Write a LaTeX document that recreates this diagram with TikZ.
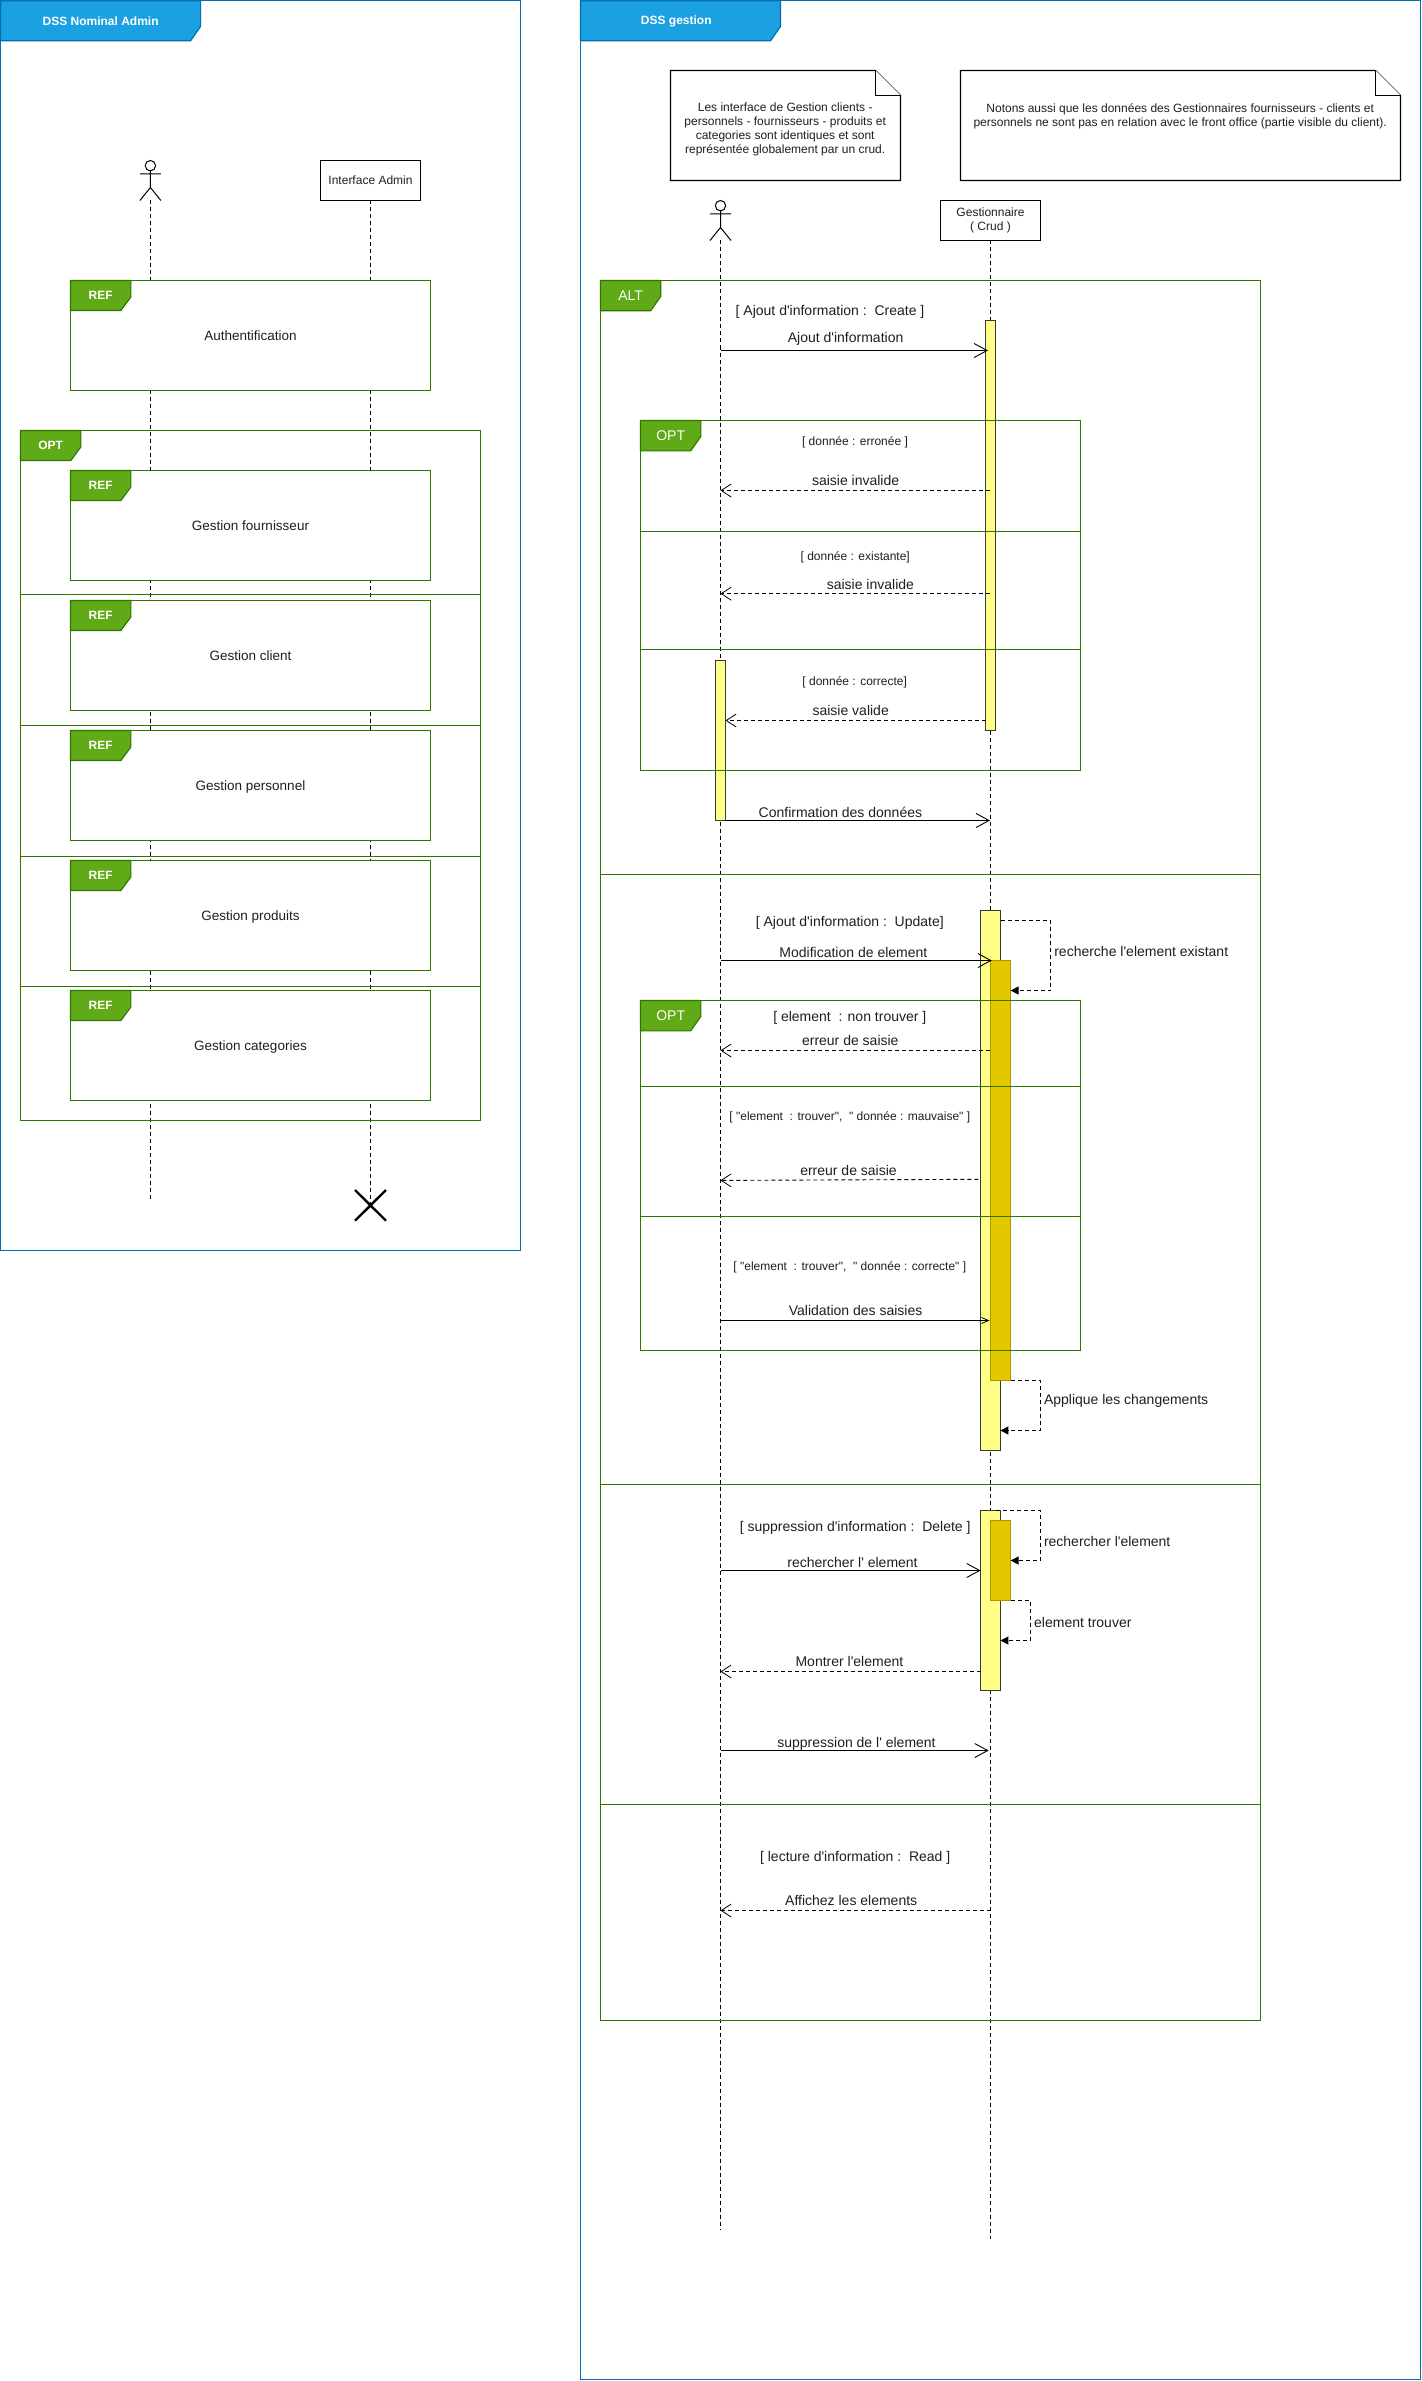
\documentclass[tikz,border=0pt]{standalone}
\usepackage{fontspec}
\usetikzlibrary{arrows.meta}
\newfontfamily\lib{Liberation Sans}
\definecolor{framestroke}{HTML}{006EAF}
\definecolor{framefill}{HTML}{1BA1E2}
\definecolor{fragstroke}{HTML}{2D7600}
\definecolor{fragfill}{HTML}{60A917}
\definecolor{actfill}{HTML}{FFFF88}
\definecolor{actstroke}{HTML}{36393D}
\definecolor{darkfill}{HTML}{E3C800}
\definecolor{darkstroke}{HTML}{B09500}
\tikzset{
  x=1pt,y=-1pt,
  every node/.style={inner sep=0pt,outer sep=0pt},
  lbl/.style={font=\lib\fontsize{14}{16}\selectfont,text height=10pt,text depth=0pt,text=black!88},
  lbls/.style={font=\lib\fontsize{12}{14}\selectfont,text height=8.6pt,text depth=0pt,text=black!88},
  lblr/.style={lbl,anchor=west},
  notetext/.style={font=\lib\fontsize{12}{14}\selectfont,align=center,text=black!88},
  objbox/.style={draw=black,fill=white,line width=1.1pt,font=\lib\fontsize{12}{14}\selectfont,align=center,text=black!88},
  refbox/.style={draw=fragstroke,fill=white,line width=1.1pt,minimum width=360pt,minimum height=110pt,font=\lib\fontsize{13.5}{16}\selectfont,text height=10pt,text depth=0pt,text=black!88},
  fragline/.style={draw=fragstroke,line width=1.1pt},
  frameline/.style={draw=framestroke,line width=1.3pt},
  fragtabstyle/.style={draw=fragstroke,fill=fragfill,line width=1.1pt,line join=miter},
  frametabstyle/.style={draw=framestroke,fill=framefill,line width=1.2pt},
  tabtxt/.style={font=\lib\bfseries\fontsize{12}{14}\selectfont,text=white,text height=8.6pt,text depth=0pt},
  tabtxtb/.style={font=\lib\fontsize{14}{16}\selectfont,text=white,text height=10pt,text depth=0pt},
  lifeline/.style={draw=black,line width=.9pt,dash pattern=on 4pt off 3pt},
  actorline/.style={draw=black,line width=1pt},
  actbar/.style={draw=actstroke,fill=actfill,line width=1.1pt,minimum width=#1},
  actbar/.default=10pt,
  darkbar/.style={draw=darkstroke,fill=darkfill,line width=1.1pt,minimum width=20pt},
  syncmsg/.style={draw=black,line width=1.1pt,-{Straight Barb[length=13pt,width=14pt,line width=.9pt]}},
  syncsmall/.style={draw=black,line width=1pt,-{Straight Barb[length=7pt,width=6pt,line width=.8pt]}},
  retmsg/.style={draw=black,line width=.9pt,dash pattern=on 4pt off 3pt,-{Straight Barb[length=10pt,width=13pt,line width=.8pt]}},
  selfmsg/.style={draw=black,line width=.9pt,dash pattern=on 4pt off 3pt,-{Triangle[length=8pt,width=8pt]}},
  notebox/.style={draw=black,fill=white,line width=1.1pt,line join=miter},
}
% #1 name, #2 x, #3 y, #4 w, #5 h, #6 cut-y, #7 shape style, #8 text style, #9 text
\newcommand{\umltab}[9]{%
  \path[#7] (#2,#3) -- ({#2+#4},#3) -- ({#2+#4},{#3+#6}) -- ({#2+#4-10},{#3+#5}) -- (#2,{#3+#5}) -- cycle;
  \node[#8] (#1) at ({#2+#4/2},{#3+#5/2}) {#9};%
}
\newcommand{\sepline}[4]{\coordinate (#1a) at (#2,#4); \coordinate (#1b) at (#3,#4); \draw[fragline] (#1a) -- (#1b);}
% #1 name, #2 x, #3 ytop (head centre = ytop+5.2)
\newcommand{\stickman}[3]{%
  \node[draw=black,line width=1pt,circle,minimum size=10.4pt] (#1) at (#2,{#3+5.2}) {};
  \coordinate (#1arml) at ({#2-10.5},{#3+13.5}); \coordinate (#1armr) at ({#2+10.5},{#3+13.5});
  \coordinate (#1hip) at (#2,{#3+27}); \coordinate (#1legl) at ({#2-10.5},{#3+40}); \coordinate (#1legr) at ({#2+10.5},{#3+40});
  \draw[actorline] (#1.south) -- (#1hip) (#1arml) -- (#1armr) (#1legl) -- (#1hip) -- (#1legr);%
}
% #1 name,#2 x0,#3 y0,#4 x1,#5 y1,#6 style,#7 label x,#8 label y,#9 label
\newcommand{\umlmsg}[9]{%
  \coordinate (#1s) at (#2,#3); \coordinate (#1e) at (#4,#5);
  \draw[#6] (#1s) -- (#1e);
  \node[lbl] (#1t) at (#7,#8) {#9};%
}
\begin{document}
\begin{tikzpicture}
\useasboundingbox (0,0) rectangle (1421,2381);
\fill[white] (0,0) rectangle (1421,2381);

%================ LEFT FRAME ================
\node[frameline,anchor=north west,minimum width=520pt,minimum height=1249.5pt] (leftframe) at (0.6,0.8) {};
\umltab{lefttitle}{0.6}{0.8}{200}{40}{25.5}{frametabstyle}{tabtxt}{DSS Nominal Admin}

\stickman{actorA}{150.4}{160.5}
\node[objbox,minimum width=100pt,minimum height=40pt] (iface) at (370.5,180.5) {Interface Admin};
\coordinate (endA) at (150.4,1199.3);
\coordinate (endB) at (370.5,1205.3);
\draw[lifeline] (actorAhip |- actorAlegl) -- (endA);
\draw[lifeline] (iface.south) -- (endB);
\draw[black,line width=2.4pt] (355,1190) -- (386,1220.7) (355,1220.7) -- (386,1190);

\node[fragline,anchor=north west,minimum width=460pt,minimum height=690pt] (optA) at (20.5,430.5) {};
\umltab{optAtab}{20.5}{430.5}{60.4}{30}{16.5}{fragtabstyle}{tabtxt}{OPT}
\sepline{sA1}{20.5}{480.5}{594.5}
\sepline{sA2}{20.5}{480.5}{725.5}
\sepline{sA3}{20.5}{480.5}{856.5}
\sepline{sA4}{20.5}{480.5}{986.5}

\node[refbox] (rauth) at (250.5,335.5) {Authentification};
\umltab{rauthtab}{70.5}{280.5}{60.4}{30}{16.5}{fragtabstyle}{tabtxt}{REF}
\node[refbox] (rfourn) at (250.5,525.5) {Gestion fournisseur};
\umltab{rfourntab}{70.5}{470.5}{60.4}{30}{16.5}{fragtabstyle}{tabtxt}{REF}
\node[refbox] (rclient) at (250.5,655.5) {Gestion client};
\umltab{rclienttab}{70.5}{600.5}{60.4}{30}{16.5}{fragtabstyle}{tabtxt}{REF}
\node[refbox] (rpers) at (250.5,785.5) {Gestion personnel};
\umltab{rperstab}{70.5}{730.5}{60.4}{30}{16.5}{fragtabstyle}{tabtxt}{REF}
\node[refbox] (rprod) at (250.5,915.5) {Gestion produits};
\umltab{rprodtab}{70.5}{860.5}{60.4}{30}{16.5}{fragtabstyle}{tabtxt}{REF}
\node[refbox] (rcat) at (250.5,1045.5) {Gestion categories};
\umltab{rcattab}{70.5}{990.5}{60.4}{30}{16.5}{fragtabstyle}{tabtxt}{REF}

%================ RIGHT FRAME ================
\node[frameline,anchor=north west,minimum width=840pt,minimum height=2379pt] (rightframe) at (580.4,0.8) {};
\path[frametabstyle] (580.4,0.8) -- (780.5,0.8) -- (780.5,26.5) -- (770.6,40.7) -- (580.4,40.7) -- cycle;
\node[tabtxt] (righttitle) at (676.3,20.7) {DSS gestion};

% notes
\path[notebox] (670.5,70.5) -- (875.5,70.5) -- (900.5,95.5) -- (900.5,180.5) -- (670.5,180.5) -- cycle;
\path[notebox] (875.5,70.5) -- (875.5,95.5) -- (900.5,95.5);
\node[notetext] (noteA) at (785.2,129.9) {Les interface de Gestion clients -\\personnels - fournisseurs - produits et\\categories sont identiques et sont\\représentée globalement par un crud.};
\path[notebox] (960.5,70.5) -- (1375.5,70.5) -- (1400.5,95.5) -- (1400.5,180.5) -- (960.5,180.5) -- cycle;
\path[notebox] (1375.5,70.5) -- (1375.5,95.5) -- (1400.5,95.5);
\node[notetext] (noteB) at (1180.2,115.9) {Notons aussi que les données des Gestionnaires fournisseurs - clients et\\personnels ne sont pas en relation avec le front office (partie visible du client).};

% lifelines
\stickman{actorC}{720.5}{200.5}
\node[objbox,minimum width=100pt,minimum height=40pt] (gest) at (990.5,220.5) {Gestionnaire\\( Crud )};
\coordinate (endC) at (720.5,2229);
\coordinate (endD) at (990.5,2239);
\draw[lifeline] (actorChip |- actorClegl) -- (endC);
\draw[lifeline] (gest.south) -- (endD);

% activations
\node[actbar,anchor=north,minimum height=410pt] (barA) at (990.5,320.5) {};
\node[actbar,anchor=north,minimum height=160pt] (barB) at (720.5,660.5) {};
\node[actbar=20pt,anchor=north,minimum height=540pt] (barC) at (990.5,910.5) {};
\node[darkbar,anchor=north,minimum height=420pt] (darkA) at (1000.5,960.5) {};
\node[actbar=20pt,anchor=north,minimum height=180pt] (barD) at (990.5,1510.5) {};
\node[darkbar,anchor=north,minimum height=80pt] (darkB) at (1000.5,1520.5) {};

% ALT fragment
\node[fragline,anchor=north west,minimum width=660pt,minimum height=1740pt] (alt) at (600.5,280.5) {};
\umltab{alttab}{600.5}{280.5}{60.2}{30.3}{16}{fragtabstyle}{tabtxtb}{ALT}
\sepline{sC1}{600.5}{1260.5}{874.5}
\sepline{sC2}{600.5}{1260.5}{1484.5}
\sepline{sC3}{600.5}{1260.5}{1804.5}

% OPT first
\node[fragline,anchor=north west,minimum width=440pt,minimum height=350pt] (optB) at (640.5,420.5) {};
\umltab{optBtab}{640.5}{420.5}{60.3}{30.3}{16}{fragtabstyle}{tabtxtb}{OPT}
\sepline{sB1}{640.5}{1080.5}{531.5}
\sepline{sB2}{640.5}{1080.5}{649.5}

% OPT second
\node[fragline,anchor=north west,minimum width=440pt,minimum height=350pt] (optC) at (640.5,1000.5) {};
\umltab{optCtab}{640.5}{1000.5}{60.3}{30.3}{16}{fragtabstyle}{tabtxtb}{OPT}
\sepline{sD1}{640.5}{1080.5}{1086.5}
\sepline{sD2}{640.5}{1080.5}{1216.5}

% Create
\node[lbl] (gCreate) at (830,311) {[ Ajout d'information :~~Create ]};
\umlmsg{mA}{720.5}{350.5}{988}{350.5}{syncmsg}{845.6}{337.3}{Ajout d'information}
\node[lbls] (gErr) at (855,440.7) {[ donnée : erronée ]};
\umlmsg{mB}{990.4}{490.5}{720.5}{490.5}{retmsg}{855.6}{480}{saisie invalide}
\node[lbls] (gExist) at (855.2,555.7) {[ donnée : existante]};
\umlmsg{mC}{990.4}{593.7}{720.5}{593.7}{retmsg}{870.4}{584}{saisie invalide}
\node[lbls] (gCorr) at (854.7,680.7) {[ donnée : correcte]};
\umlmsg{mD}{985.5}{720.5}{725.5}{720.5}{retmsg}{850.7}{710.3}{saisie valide}
\umlmsg{mE}{725.5}{820.5}{990}{820.5}{syncmsg}{840.4}{812.3}{Confirmation des données}

% Update
\node[lbl] (gUpdate) at (849.8,921) {[ Ajout d'information :~~Update]};
\umlmsg{mF}{720.5}{960.5}{991.8}{960.5}{syncmsg}{853.4}{952}{Modification de element}
\coordinate (loopAs) at (1000.5,920.5);
\coordinate (loopAe) at (1010.6,990.5);
\draw[selfmsg] (loopAs) -- (1050.5,920.5) -- (1050.5,990.5) -- (loopAe);
\node[lblr] (tLoopA) at (1054.3,951.2) {recherche l'element existant};
\node[lbl] (gNon) at (849.8,1016.2) {[ element~~: non trouver ]};
\umlmsg{mG}{990.4}{1050.5}{720.5}{1050.5}{retmsg}{850.3}{1040}{erreur de saisie}
\node[lbls] (gMauv) at (849.8,1116.5) {[ "element~~: trouver",~~" donnée : mauvaise" ]};
\umlmsg{mH}{978.4}{1179.3}{720.5}{1180.4}{retmsg}{848.5}{1170}{erreur de saisie}
\node[lbls] (gCorrB) at (849.8,1266.5) {[ "element~~: trouver",~~" donnée : correcte" ]};
\umlmsg{mI}{720.5}{1320.5}{989.6}{1320.5}{syncsmall}{855.6}{1310}{Validation des saisies}
\coordinate (loopBs) at (1010.6,1380.5);
\coordinate (loopBe) at (1000.4,1430.5);
\draw[selfmsg] (loopBs) -- (1040.5,1380.5) -- (1040.5,1430.5) -- (loopBe);
\node[lblr] (tLoopB) at (1044,1399) {Applique les changements};

% Delete
\node[lbl] (gDelete) at (855.2,1526.2) {[ suppression d'information :~~Delete ]};
\coordinate (loopCs) at (996,1510.5);
\coordinate (loopCe) at (1010.6,1560.5);
\draw[selfmsg] (loopCs) -- (1040.5,1510.5) -- (1040.5,1560.5) -- (loopCe);
\node[lblr] (tLoopC) at (1044,1541) {rechercher l'element};
\umlmsg{mJ}{720.5}{1570.5}{980.6}{1570.5}{syncmsg}{852.5}{1562}{rechercher l' element}
\coordinate (loopDs) at (1010.6,1600.5);
\coordinate (loopDe) at (1000.4,1640.5);
\draw[selfmsg] (loopDs) -- (1030.5,1600.5) -- (1030.5,1640.5) -- (loopDe);
\node[lblr] (tLoopD) at (1034.2,1622) {element trouver};
\umlmsg{mK}{980.6}{1671.5}{720.5}{1671.5}{retmsg}{849.4}{1661.3}{Montrer l'element}
\umlmsg{mL}{720.5}{1750.5}{988.7}{1750.5}{syncmsg}{856.5}{1742.3}{suppression de l' element}

% Read
\node[lbl] (gRead) at (855.2,1856.2) {[ lecture d'information :~~Read ]};
\umlmsg{mM}{990.5}{1910.5}{720.5}{1910.5}{retmsg}{851.2}{1900}{Affichez les elements}
\end{tikzpicture}
\end{document}
